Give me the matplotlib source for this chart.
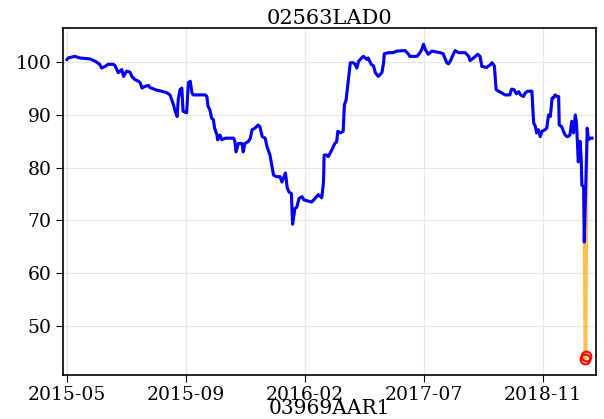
import numpy as np
import matplotlib
matplotlib.use("Agg")
import matplotlib.pyplot as plt

plt.rcParams["font.family"] = "DejaVu Serif"

title = "02563LAD0"
xlabel = "03969AAR1"

# sample index -> value
sample_idx = [0, 2, 13, 22, 39, 47, 55, 58, 64, 69, 78, 81, 86, 92, 95, 100, 106, 109,
              114, 120, 123, 126, 131, 137, 139, 151, 159, 168, 173, 176, 179, 181, 185,
              187, 190, 193, 195, 201, 204, 207, 210, 212, 232, 235, 237, 240, 243, 246,
              248, 252, 253, 257, 260, 266, 280, 282, 284, 288, 294, 296, 299, 305, 308,
              311, 316, 321, 324, 328, 333, 336, 341, 344, 347, 352, 358, 361, 367, 370,
              373, 377, 379, 383, 386, 390, 395, 398, 411, 417, 422, 428, 431, 432, 436,
              439, 445, 450, 453, 455, 459, 464, 466, 469, 473, 476, 481, 484, 487, 490,
              495, 498, 504, 506, 511, 515, 518, 523, 529, 532, 533, 540, 548, 554, 568,
              574, 576, 588, 593, 596, 599, 602, 607, 610, 613, 627, 632, 638, 641, 644,
              649, 652, 658, 669, 675, 677, 683, 690, 694, 697, 705, 711, 714, 718, 721,
              725, 730, 736, 739, 744, 747, 751, 755, 759, 762, 767, 770, 774, 781, 784,
              787, 789, 792, 795, 798, 803, 806, 809, 812, 815, 817, 820, 823, 826, 827,
              831, 834, 837, 840, 842, 845, 848, 851, 854, 856, 859, 862, 864, 865, 868,
              869, 870, 872, 874, 876, 879, 882]
raw_vals = [100.5, 100.8, 101.1, 100.8, 100.6, 100.2, 99.6, 98.9, 99.2, 99.6, 99.6, 99.3,
            98.0, 98.6, 97.3, 98.3, 98.1, 97.3, 96.7, 96.4, 96.1, 95.1, 95.4, 95.6, 95.2,
            94.7, 94.5, 94.2, 93.8, 92.9, 91.9, 91.0, 89.7, 93.0, 94.8, 95.1, 90.7, 90.4,
            96.1, 96.4, 94.2, 93.8, 93.8, 93.5, 91.6, 91.0, 89.4, 89.1, 87.5, 86.2, 85.3,
            86.2, 85.3, 85.6, 85.6, 85.0, 83.0, 84.6, 84.6, 83.0, 84.6, 85.0, 85.6, 87.2,
            87.5, 88.1, 87.8, 85.9, 85.6, 84.0, 82.4, 80.5, 78.6, 78.3, 78.3, 77.3, 79.0,
            76.2, 75.4, 75.1, 69.3, 72.3, 72.5, 74.2, 74.5, 73.9, 73.5, 74.2, 74.9, 74.3,
            77.3, 82.4, 82.4, 82.1, 83.4, 84.6, 84.9, 86.9, 86.6, 86.9, 91.9, 92.9, 97.0,
            99.9, 99.9, 99.6, 98.9, 100.2, 100.8, 101.1, 100.5, 100.8, 99.6, 99.3, 98.0,
            97.3, 98.0, 99.9, 101.6, 101.8, 101.8, 102.1, 102.2, 101.5, 101.1, 101.1,
            101.8, 102.4, 103.4, 102.4, 101.5, 101.8, 102.1, 101.8, 101.6, 99.9, 99.7,
            100.2, 101.5, 102.2, 101.8, 101.8, 101.1, 100.3, 100.8, 101.5, 101.1, 99.2,
            99.0, 99.5, 99.9, 99.3, 94.8, 94.5, 94.2, 93.8, 93.8, 93.8, 94.9, 94.8, 94.0,
            94.4, 93.8, 93.5, 94.2, 94.5, 94.5, 88.5, 87.8, 86.6, 87.2, 85.9, 86.9, 87.2,
            87.5, 90.0, 89.7, 93.2, 93.2, 93.8, 93.5, 93.5, 88.1, 87.8, 86.9, 86.2, 85.9,
            85.9, 86.2, 88.8, 86.6, 90.0, 88.5, 81.1, 85.0, 81.5, 76.7, 76.4, 65.9, 43.7,
            44.3, 87.5, 85.3, 85.6, 85.6]
outlier_idx = [870, 872]

tick_pos = [0, 200, 400, 600, 800]
tick_labels = ["2015-05", "2015-09", "2016-02", "2017-07", "2018-11"]

x = np.array(sample_idx)
y = np.array(raw_vals)
is_out = np.isin(x, outlier_idx)

fig = plt.figure(figsize=(6.04, 4.19), dpi=100)
ax = fig.add_axes([0.104, 0.105, 0.883, 0.827])

# raw series (with outliers) under the cleaned one
ax.plot(x, y, color="orange", lw=2, alpha=0.7, zorder=2)
ax.plot(x[~is_out], y[~is_out], color="blue", lw=2.2, zorder=3)
ax.plot(x[is_out], y[is_out], "o", mfc="none", mec="red", ms=7, mew=1.5, zorder=4)

ax.set_xticks(tick_pos)
ax.set_xticklabels(tick_labels)
ax.set_xlim(-7, 889)
ax.tick_params(labelsize=13.5, direction="out", length=5, pad=3)
ax.grid(True, color="#e6e6e6", lw=0.8)
ax.set_axisbelow(True)
for s in ax.spines.values():
    s.set_linewidth(1.2)

ax.set_title(title, fontsize=15, pad=3)
ax.set_xlabel(xlabel, fontsize=14.5, labelpad=-3.5)

fig.savefig("out.png", dpi=100)
plt.close(fig)
